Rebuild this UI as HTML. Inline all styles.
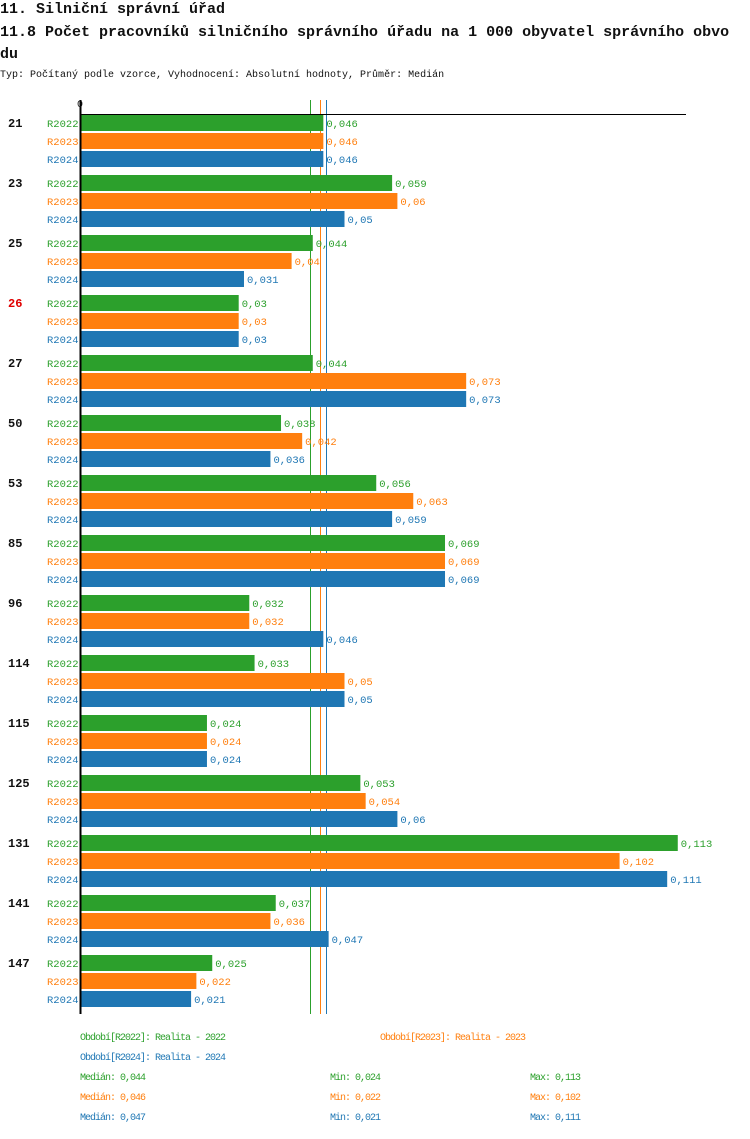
<!DOCTYPE html>
<html><head><meta charset="utf-8"><style>
body{margin:0;background:#fff;width:750px;height:1134px;overflow:hidden;font-family:"Liberation Mono",monospace}
svg text{font-family:"Liberation Mono",monospace}
</style></head><body>
<svg width="750" height="1134" xmlns="http://www.w3.org/2000/svg">
<text x="0" y="13" font-size="15" font-weight="bold" fill="#111">11. Silniční správní úřad</text>
<text x="0" y="36" font-size="15" font-weight="bold" fill="#111">11.8 Počet pracovníků silničního správního úřadu na 1 000 obyvatel správního obvo</text>
<text x="0" y="58" font-size="15" font-weight="bold" fill="#111">du</text>
<text x="0" y="77" font-size="10" fill="#111">Typ: Počítaný podle vzorce, Vyhodnocení: Absolutní hodnoty, Průměr: Medián</text>
<g id="plot"></g>
</svg>
<script>
const categories=["21","23","25","26","27","50","53","85","96","114","115","125","131","141","147"];
const highlighted=["26"];
const seriesNames=["R2022","R2023","R2024"];
const v2022=[0.046,0.059,0.044,0.03,0.044,0.038,0.056,0.069,0.032,0.033,0.024,0.053,0.113,0.037,0.025];
const v2023=[0.046,0.06,0.04,0.03,0.073,0.042,0.063,0.069,0.032,0.05,0.024,0.054,0.102,0.036,0.022];
const v2024=[0.046,0.05,0.031,0.03,0.073,0.036,0.059,0.069,0.046,0.05,0.024,0.06,0.111,0.047,0.021];
const medians=[0.044,0.046,0.047];
const mins=[0.024,0.022,0.021];
const maxs=[0.113,0.102,0.111];
const legendLabels=["Období[R2022]: Realita - 2022","Období[R2023]: Realita - 2023","Období[R2024]: Realita - 2024"];
const colors=["#2ca02c","#ff7f0e","#1f77b4"];
const series=[v2022,v2023,v2024];
const NS="http://www.w3.org/2000/svg";
const g=document.getElementById('plot');
const x=v=>80+v*5290;
const y0=114,groupH=60,rowH=18;
function mk(tag,attrs,txt){const e=document.createElementNS(NS,tag);for(const k in attrs)e.setAttribute(k,attrs[k]);if(txt!==undefined)e.textContent=txt;g.appendChild(e);return e;}
medians.forEach((m,j)=>{
 const xx=Math.round(x(m)-3)+0.5;
 const ln=mk('line',{x1:xx,x2:xx,y1:100,y2:1014,stroke:colors[j],'stroke-width':1});
 
 
});
categories.forEach((c,i)=>{
 const gy=y0+i*groupH;
 const t=mk('text',{x:8,y:gy+13,'font-size':12,'font-weight':'bold',fill:highlighted.includes(c)?'#e00000':'#111'},c);
 
 
 series.forEach((s,j)=>{
  const ry=gy+1+j*rowH;
  const l=mk('text',{x:47,y:ry+12,'font-size':10.5,fill:colors[j]},seriesNames[j]);
  
  
  const r=mk('rect',{x:81,y:ry,width:x(s[i])-81,height:16,fill:colors[j]});
  
  
  const vt=mk('text',{x:x(s[i])+3,y:ry+12,'font-size':10.5,fill:colors[j]},String(s[i]).replace('.',','));
  
  
 });
});
const ax=mk('line',{x1:80,x2:686,y1:114.5,y2:114.5,stroke:'#000','stroke-width':1});


const ay=mk('line',{x1:80.5,x2:80.5,y1:100,y2:1014,stroke:'#000','stroke-width':2});


const z=mk('text',{x:77,y:107,'font-size':10,fill:'#111'},'0');


const legPos=[[80,1040],[380,1040],[80,1060]];
legendLabels.forEach((t,j)=>{
 const e=mk('text',{x:legPos[j][0],y:legPos[j][1],'font-size':10,'letter-spacing':-1,fill:colors[j]},t);
 
 
});
const f=v=>String(v).replace('.',',');
seriesNames.forEach((n,j)=>{
 const yy=1080+j*20;
 const a=mk('text',{x:80,y:yy,'font-size':10,'letter-spacing':-1,fill:colors[j]},'Medián: '+f(medians[j]));
 
 
 const b=mk('text',{x:330,y:yy,'font-size':10,'letter-spacing':-1,fill:colors[j]},'Min: '+f(mins[j]));
 
 
 const c=mk('text',{x:530,y:yy,'font-size':10,'letter-spacing':-1,fill:colors[j]},'Max: '+f(maxs[j]));
 
 
});
</script>
</body></html>
